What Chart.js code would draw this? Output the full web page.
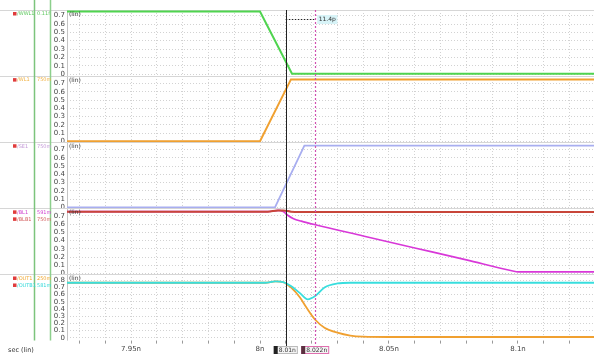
<!DOCTYPE html>
<html>
<head>
<meta charset="utf-8">
<script src="https://cdn.jsdelivr.net/npm/chart.js@4"></script>
<style>
  html, body { margin: 0; padding: 0; background: #fff; }
  #wrap { width: 594px; height: 354px; position: relative; }
</style>
</head>
<body>
<div id="wrap"><canvas id="wave"></canvas></div>
<script>
// time axis in ns
const tMin = 7.92519;
const tMax = 8.12946;
const cursorA = 8.01;
const cursorB = 8.0214;
const cursorLabels = ['8.01n', '8.022n'];
const deltaLabel = '11.4p';

// WWL1 (panel 1)
const tWWL = [7.925, 8.0, 8.0124, 8.13];
const vWWL = [0.75, 0.75, 0.004, 0.004];
// WL1 (panel 2)
const tWL = [7.925, 8.0, 8.012, 8.13];
const vWL = [0, 0, 0.75, 0.75];
// SE1 (panel 3)
const tSE = [7.925, 8.0058, 8.0172, 8.13];
const vSE = [0, 0, 0.75, 0.75];
// BL1 / BLB1 (panel 4)
const tBLB = [7.925, 8.003, 8.007, 8.009, 8.012, 8.015, 8.13];
const vBLB = [0.75, 0.75, 0.765, 0.765, 0.75, 0.745, 0.745];
const tBL = [7.925, 8.003, 8.007, 8.009, 8.011, 8.013, 8.016, 8.0214, 8.04, 8.06, 8.08, 8.098, 8.1, 8.13];
const vBL = [0.75, 0.75, 0.765, 0.75, 0.70, 0.665, 0.635, 0.591, 0.455, 0.31, 0.165, 0.03, 0.02, 0.02];
// OUT1 / OUTB1 (panel 5)
const tOUT = [7.925, 8.002, 8.006, 8.009, 8.012, 8.0155, 8.018, 8.0214, 8.025, 8.03, 8.035, 8.04, 8.05, 8.13];
const vOUT = [0.765, 0.765, 0.785, 0.775, 0.70, 0.56, 0.42, 0.25, 0.14, 0.07, 0.03, 0.015, 0.01, 0.01];
const tOUTB = [7.925, 8.002, 8.006, 8.009, 8.012, 8.0155, 8.0185, 8.0214, 8.025, 8.03, 8.035, 8.13];
const vOUTB = [0.765, 0.765, 0.785, 0.775, 0.72, 0.62, 0.535, 0.581, 0.70, 0.755, 0.765, 0.765];

// panel axis ranges [min, max]
const panelRanges = [[-0.025, 0.768], [-0.012, 0.79], [-0.012, 0.79], [-0.012, 0.79], [-0.04, 0.88]];

// legend rows per panel: [name, value text, colour]
const panelLabels = [
    [['/WWL1', '0.11f', '#5cc85c']],
    [['/WL1', '750m', '#f0b040']],
    [['/SE1', '750m', '#c49ad8']],
    [['/BL1', '591m', '#d040d0'], ['/BLB1', '750m', '#d46060']],
    [['/OUT1', '250m', '#f0a830'], ['/OUTB1', '581m', '#30d8d8']]
];

const COL = {
    green: '#4fd44f',
    orange: '#f0a030',
    lavender: '#a8aef0',
    red: '#c8463a',
    magenta: '#d838d8',
    cyan: '#38dede'
};

function pts(ts, vs) {
    return ts.map((t, i) => ({ x: t, y: vs[i] }));
}

function series(ts, vs, color, axis, width, smooth) {
    return {
        data: pts(ts, vs),
        borderColor: color,
        borderWidth: width,
        pointRadius: 0,
        yAxisID: axis,
        cubicInterpolationMode: smooth ? 'monotone' : 'default',
        tension: 0
    };
}

function panelAxis(range) {
    return {
        type: 'linear',
        position: 'left',
        stack: 'wave',
        stackWeight: 1,
        min: range[0],
        max: range[1],
        afterFit: s => { s.width = 67; },
        border: { display: false, dash: [1, 2] },
        grid: { color: '#d2d2d2', lineWidth: 1, drawTicks: false },
        ticks: {
            stepSize: 0.1,
            includeBounds: false,
            autoSkip: false,
            font: { size: 7, family: 'DejaVu Sans' },
            color: '#444',
            padding: 2,
            callback: v => Math.abs(v * 10 - Math.round(v * 10)) < 1e-6 ? String(+v.toFixed(1)) : ''
        }
    };
}

// axes listed bottom panel first: stacked left boxes are placed in reverse order
const scales = {
    x: {
        type: 'linear',
        min: tMin,
        max: tMax,
        border: { display: false, dash: [1, 2] },
        grid: { color: '#d2d2d2', tickLength: 3, tickColor: '#999' },
        ticks: {
            stepSize: 0.01,
            includeBounds: false,
            autoSkip: false,
            maxRotation: 0,
            padding: 1,
            font: { size: 7, family: 'DejaVu Sans' },
            color: '#444',
            callback: v => {
                const r = Math.round(v * 100) / 100;
                return Math.abs(r * 20 - Math.round(r * 20)) < 1e-6 ? (+r.toFixed(2)) + 'n' : '';
            }
        }
    },
    p5: panelAxis(panelRanges[4]),
    p4: panelAxis(panelRanges[3]),
    p3: panelAxis(panelRanges[2]),
    p2: panelAxis(panelRanges[1]),
    p1: panelAxis(panelRanges[0])
};

const panelIds = ['p1', 'p2', 'p3', 'p4', 'p5'];

const waveDecor = {
    id: 'waveDecor',
    beforeDatasetsDraw(chart) {
        const ctx = chart.ctx;
        const area = chart.chartArea;
        ctx.save();
        // plot border on the left
        ctx.strokeStyle = '#c4c4c4';
        ctx.lineWidth = 1;
        ctx.beginPath();
        ctx.moveTo(area.left + 0.5, area.top);
        ctx.lineTo(area.left + 0.5, area.bottom);
        ctx.stroke();
        // panel separators
        ctx.strokeStyle = '#d6d6d6';
        panelIds.forEach(id => {
            const s = chart.scales[id];
            ctx.beginPath();
            ctx.moveTo(0, Math.round(s.top) + 0.5);
            ctx.lineTo(chart.width, Math.round(s.top) + 0.5);
            ctx.stroke();
        });
        ctx.restore();
    },
    afterDatasetsDraw(chart) {
        const ctx = chart.ctx;
        const area = chart.chartArea;
        const xs = chart.scales.x;
        ctx.save();

        // name / value column dividers
        ctx.lineWidth = 1.5;
        ctx.strokeStyle = '#7cc47c';
        ctx.beginPath();
        ctx.moveTo(34.5, 0);
        ctx.lineTo(34.5, area.bottom);
        ctx.stroke();
        ctx.strokeStyle = '#8ccf8c';
        ctx.beginPath();
        ctx.moveTo(50.5, 0);
        ctx.lineTo(50.5, area.bottom);
        ctx.stroke();

        // legend rows and unit labels
        ctx.textBaseline = 'middle';
        panelIds.forEach((id, p) => {
            const s = chart.scales[id];
            ctx.font = '5px DejaVu Sans';
            panelLabels[p].forEach((row, r) => {
                const y = s.top + 4 + r * 7;
                ctx.fillStyle = '#e03c3c';
                ctx.fillRect(13, y - 2, 3.5, 3.5);
                ctx.fillStyle = row[2];
                ctx.textAlign = 'left';
                ctx.fillText(row[0], 17, y);
                ctx.fillText(row[1], 37, y);
            });
            ctx.fillStyle = '#333';
            ctx.font = '6px DejaVu Sans';
            ctx.fillText('(lin)', area.left + 2, s.top + 4);
        });

        // cursors
        const xa = xs.getPixelForValue(cursorA);
        const xb = xs.getPixelForValue(cursorB);
        ctx.strokeStyle = '#222';
        ctx.lineWidth = 1;
        ctx.beginPath();
        ctx.moveTo(Math.round(xa) + 0.5, area.top);
        ctx.lineTo(Math.round(xa) + 0.5, chart.height - 8);
        ctx.stroke();
        ctx.strokeStyle = '#d050b0';
        ctx.lineWidth = 1.2;
        ctx.setLineDash([2, 2]);
        ctx.beginPath();
        ctx.moveTo(Math.round(xb) + 0.5, area.top);
        ctx.lineTo(Math.round(xb) + 0.5, chart.height - 8);
        ctx.stroke();

        // delta marker between cursors
        ctx.strokeStyle = '#222';
        ctx.lineWidth = 1;
        ctx.setLineDash([1.5, 1.5]);
        ctx.beginPath();
        ctx.moveTo(xa, 19.5);
        ctx.lineTo(xb, 19.5);
        ctx.stroke();
        ctx.setLineDash([]);
        ctx.font = '6px DejaVu Sans';
        ctx.textAlign = 'left';
        const dw = ctx.measureText(deltaLabel).width;
        ctx.fillStyle = '#d8f4f8';
        ctx.fillRect(xb + 2, 15, dw + 3, 9);
        ctx.fillStyle = '#333';
        ctx.fillText(deltaLabel, xb + 3.5, 19.5);

        // cursor tags on the time axis
        const tag = (x, text, mark, edge) => {
            ctx.font = '6px DejaVu Sans';
            const w = ctx.measureText(text).width + 7;
            const left = x - w / 2;
            ctx.fillStyle = '#f4f4f4';
            ctx.fillRect(left, 346, w, 8);
            ctx.strokeStyle = edge;
            ctx.lineWidth = 1;
            ctx.strokeRect(left + 0.5, 346.5, w - 1, 7);
            ctx.fillStyle = mark;
            ctx.fillRect(left, 346, 4, 8);
            ctx.fillStyle = '#333';
            ctx.textAlign = 'left';
            ctx.fillText(text, left + 5, 350.5);
        };
        tag(xa, cursorLabels[0], '#222', '#bbb');
        tag(xb, cursorLabels[1], '#5a3040', '#e070b0');

        ctx.font = '6.5px DejaVu Sans';
        ctx.fillStyle = '#333';
        ctx.textAlign = 'left';
        ctx.fillText('sec (lin)', 8, 350.5);
        ctx.restore();
    }
};

// first dataset in each panel is drawn on top
new Chart(document.getElementById('wave'), {
    type: 'line',
    data: {
        datasets: [
            series(tWWL, vWWL, COL.green, 'p1', 2, false),
            series(tWL, vWL, COL.orange, 'p2', 2, false),
            series(tSE, vSE, COL.lavender, 'p3', 1.8, false),
            series(tBLB, vBLB, COL.red, 'p4', 2, true),
            series(tBL, vBL, COL.magenta, 'p4', 1.6, true),
            series(tOUTB, vOUTB, COL.cyan, 'p5', 1.8, true),
            series(tOUT, vOUT, COL.orange, 'p5', 1.8, true)
        ]
    },
    options: {
        responsive: true,
        maintainAspectRatio: false,
        animation: false,
        parsing: false,
        layout: { padding: { top: 10, left: 0, right: 0, bottom: 0 } },
        plugins: { legend: { display: false }, tooltip: { enabled: false } },
        scales: scales
    },
    plugins: [waveDecor]
});
</script>
</body>
</html>
